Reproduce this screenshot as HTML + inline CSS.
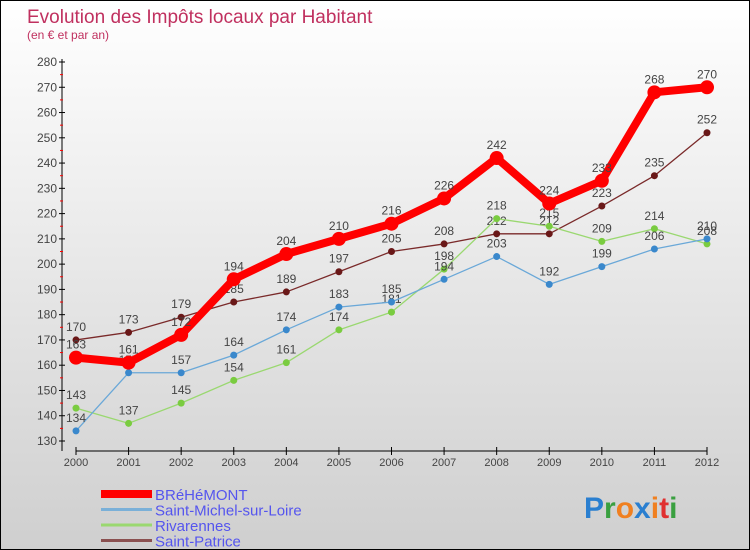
<!DOCTYPE html>
<html><head><meta charset="utf-8"><style>
body{margin:0}
#c{position:relative;width:748px;height:548px;border:1px solid #000;background:linear-gradient(#fff,#cfcfcf);font-family:"Liberation Sans",sans-serif;overflow:hidden}
</style></head><body>
<div id="c">
<svg id="s" width="748" height="548" style="position:absolute;left:0;top:0">
<text x="26" y="22" font-size="19" fill="#c0305f">Evolution des Impôts locaux par Habitant</text>
<text x="26" y="38" font-size="12" fill="#c0305f">(en € et par an)</text>
<g id="ax"></g><g id="ser"></g><g id="lg"></g>
<text x="583" y="517" font-size="30" font-weight="bold"><tspan fill="#2a7fd0">P</tspan><tspan fill="#3aa040">r</tspan><tspan fill="#f08020">o</tspan><tspan fill="#2a7fd0">x</tspan><tspan fill="#f08020">i</tspan><tspan fill="#e03030">t</tspan><tspan fill="#3aa040">i</tspan></text>
</svg>
</div>
<script>
const years=[2000,2001,2002,2003,2004,2005,2006,2007,2008,2009,2010,2011,2012];
const yTicks=[130,140,150,160,170,180,190,200,210,220,230,240,250,260,270,280];
const brehemont=[163,161,172,194,204,210,216,226,242,224,233,268,270];
const saintMichel=[134,157,157,164,174,183,185,194,203,192,199,206,210];
const rivarennes=[143,137,145,154,161,174,181,198,218,215,209,214,208];
const saintPatrice=[170,173,179,185,189,197,205,208,212,212,223,235,252];
const NS="http://www.w3.org/2000/svg";
function X(i){return 75+i*(706-75)/(years.length-1);}
function Y(v){return 440-(v-130)*(440-61)/150;}
function mk(tag,at,par){const e=document.createElementNS(NS,tag);for(const k in at)e.setAttribute(k,at[k]);par.appendChild(e);return e;}
const ax=document.getElementById('ax');
const yl=mk('line',{x1:61,y1:58,x2:61,y2:450,stroke:'#000'},ax);


const xl=mk('line',{x1:75,y1:450,x2:706,y2:450,stroke:'#000'},ax);


yTicks.forEach(v=>{
 mk('line',{x1:58,y1:Y(v),x2:64,y2:Y(v),stroke:'#000'},ax);
 if(v<280)mk('line',{x1:59,y1:Y(v+5),x2:62,y2:Y(v+5),stroke:'#f00'},ax);
 const t=mk('text',{x:56,y:Y(v)+4,'font-size':12,'text-anchor':'end',fill:'#444'},ax);t.textContent=v;
 
 
});
years.forEach((y,i)=>{
 mk('line',{x1:X(i),y1:446,x2:X(i),y2:454,stroke:'#000'},ax);
 const t=mk('text',{x:X(i),y:465,'font-size':11,'text-anchor':'middle',fill:'#444'},ax);t.textContent=y;
 
 
});
const ser=document.getElementById('ser');
const series=[
 {n:'saint-patrice',d:saintPatrice,c:'#7a2a2a',f:'#6a1818',w:1.3,r:3.5},
 {n:'rivarennes',d:rivarennes,c:'#9ad870',f:'#7acc40',w:1.3,r:3.5},
 {n:'saint-michel',d:saintMichel,c:'#6aa8d8',f:'#3a88cc',w:1.3,r:3.5},
 {n:'brehemont',d:brehemont,c:'#f00',f:'#f00',w:8,r:7}];
series.forEach(s=>{
 const g=mk('g',{},ser);
 
 
 mk('polyline',{points:s.d.map((v,i)=>X(i)+','+Y(v)).join(' '),fill:'none',stroke:s.c,'stroke-width':s.w,'stroke-linejoin':'round'},g);
 s.d.forEach((v,i)=>{
  const p=mk('circle',{cx:X(i),cy:Y(v),r:s.r,fill:s.f},g);
  
  
  const t=mk('text',{x:X(i),y:Y(v)-9,'font-size':12,'text-anchor':'middle',fill:'#444'},g);t.textContent=v;
  
  
 });
});
const lg=document.getElementById('lg');
const names=['BRéHéMONT','Saint-Michel-sur-Loire','Rivarennes','Saint-Patrice'];
const lc=['#f00','#7ab0d8','#9ad870','#8a5050'],lw=[8,3,3,3];
names.forEach((n,i)=>{
 const y=493+i*15.5;
 const g=mk('g',{},lg);
 
 
 mk('line',{x1:100,y1:y,x2:151,y2:y,stroke:lc[i],'stroke-width':lw[i]},g);
 const t=mk('text',{x:154,y:y+6,'font-size':15,fill:'#5555ee'},g);t.textContent=n;
});
</script>
</body></html>
